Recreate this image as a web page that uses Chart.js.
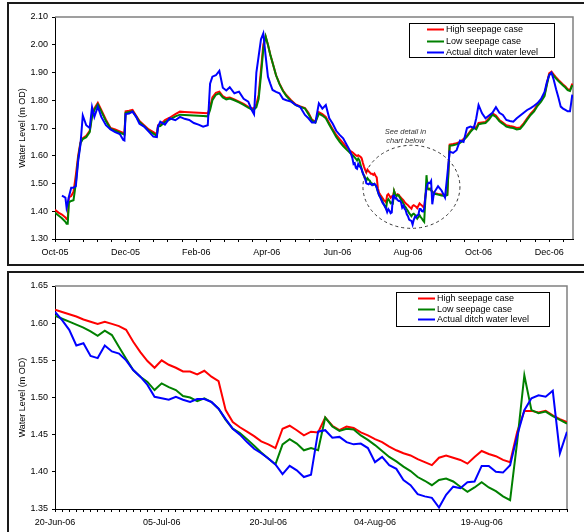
<!DOCTYPE html>
<html>
<head>
<meta charset="utf-8">
<title>Ditch water level - seepage cases</title>
<script src="https://cdn.jsdelivr.net/npm/chart.js@4.4.1/dist/chart.umd.min.js"></script>
<style>
    html, body { margin: 0; padding: 0; background: #fff; overflow: hidden; }
    body { width: 584px; height: 532px; position: relative; }
    .frame { position: absolute; border: 2px solid #1a1a1a; box-sizing: border-box; }
    #frameTop { left: 7px; top: 2px; width: 600px; height: 264px; }
    #frameBottom { left: 7px; top: 271px; width: 600px; height: 300px; }
    canvas { position: absolute; left: 0; }
    #overviewChart { top: 0; }
    #detailChart { top: 268px; }
</style>
</head>
<body>
<div class="frame" id="frameTop"></div>
<div class="frame" id="frameBottom"></div>
<canvas id="overviewChart" width="584" height="266"></canvas>
<canvas id="detailChart" width="584" height="264"></canvas>

<script>
/* ===== Data ===== */
var seriesLabels = ['High seepage case', 'Low seepage case', 'Actual ditch water level'];

// overview axis: days counted from the first axis tick (labelled Oct-05)
var overviewMonthLabels = ['Oct-05', 'Dec-05', 'Feb-06', 'Apr-06', 'Jun-06', 'Aug-06', 'Oct-06', 'Dec-06'];
var overviewLevelTicks = [1.3, 1.4, 1.5, 1.6, 1.7, 1.8, 1.9, 2.0, 2.1];
var detailStartDay = 255; // 20-Jun-06 on the overview axis

var earlyDays = [0, 3, 6, 9, 10, 11, 12, 14, 16, 18, 20, 22, 24, 27, 30, 32, 34, 37, 40, 44,
    48, 52, 56, 59, 60, 61, 64, 67, 70, 73, 77, 81, 85, 88, 89, 91, 95, 99, 104, 108,
    112, 116, 120, 124, 128, 132, 134, 136, 139, 142, 145, 148, 151, 155, 159, 163, 167, 170, 172, 174,
    176, 178, 180, 182, 184, 186, 188, 191, 194, 197, 200, 204, 208, 212, 216, 219, 222, 225, 228, 231,
    234, 237, 240, 243, 246, 249, 252, 254];
var earlyHigh = [1.405, 1.395, 1.388, 1.378, 1.372, 1.371, 1.450, 1.455, 1.470, 1.530,
    1.600, 1.648, 1.663, 1.672, 1.690, 1.750, 1.770, 1.791, 1.765, 1.730,
    1.700, 1.695, 1.688, 1.682, 1.680, 1.760, 1.762, 1.765, 1.745, 1.725,
    1.710, 1.695, 1.685, 1.677, 1.710, 1.712, 1.729, 1.737, 1.750, 1.759,
    1.758, 1.757, 1.756, 1.755, 1.754, 1.753, 1.775, 1.810, 1.827, 1.831,
    1.815, 1.808, 1.810, 1.803, 1.795, 1.787, 1.776, 1.771, 1.772, 1.785,
    1.820, 1.910, 2.000, 2.030, 2.000, 1.965, 1.935, 1.890, 1.860, 1.835,
    1.818, 1.800, 1.785, 1.778, 1.772, 1.755, 1.730, 1.723, 1.757, 1.750,
    1.740, 1.717, 1.695, 1.675, 1.660, 1.645, 1.630, 1.622];
var earlyLow = [1.395, 1.385, 1.375, 1.362, 1.355, 1.355, 1.432, 1.437, 1.440, 1.500,
    1.590, 1.645, 1.660, 1.667, 1.685, 1.740, 1.765, 1.785, 1.760, 1.725,
    1.697, 1.690, 1.683, 1.678, 1.676, 1.755, 1.758, 1.760, 1.742, 1.722,
    1.706, 1.690, 1.680, 1.672, 1.705, 1.707, 1.722, 1.730, 1.742, 1.748,
    1.747, 1.746, 1.745, 1.744, 1.743, 1.742, 1.765, 1.800, 1.820, 1.825,
    1.810, 1.803, 1.806, 1.800, 1.792, 1.783, 1.773, 1.767, 1.767, 1.775,
    1.805, 1.890, 1.985, 2.030, 2.000, 1.965, 1.935, 1.890, 1.858, 1.833,
    1.815, 1.797, 1.782, 1.776, 1.770, 1.750, 1.727, 1.720, 1.752, 1.745,
    1.735, 1.712, 1.690, 1.668, 1.650, 1.635, 1.622, 1.614];
var earlyActual = [null, null, 1.456, 1.449, 1.413, 1.430, 1.452, 1.485, 1.485, 1.490,
    1.580, 1.640, 1.745, 1.710, 1.700, 1.775, 1.740, 1.777, 1.740, 1.710,
    1.695, 1.685, 1.678, 1.657, 1.655, 1.750, 1.752, 1.759, 1.741, 1.715,
    1.705, 1.687, 1.669, 1.667, 1.705, 1.723, 1.712, 1.735, 1.728, 1.740,
    1.733, 1.729, 1.718, 1.712, 1.705, 1.710, 1.860, 1.885, 1.890, 1.906,
    1.845, 1.835, 1.847, 1.825, 1.831, 1.805, 1.795, 1.765, 1.750, 1.900,
    1.960, 2.020, 2.041, 1.960, 1.885, 1.860, 1.837, 1.830, 1.825, 1.805,
    1.800, 1.795, 1.783, 1.775, 1.747, 1.735, 1.720, 1.720, 1.789, 1.770,
    1.783, 1.735, 1.715, 1.690, 1.675, 1.663, 1.640, 1.625];

var lateDays = [328, 331, 334, 337, 339, 341, 344, 347, 350, 353, 356, 359, 362, 364, 366, 369, 372, 375, 378, 381,
    384, 387, 390, 393, 396, 399, 402, 405, 408, 411, 414, 417, 420, 423, 425, 427, 429, 431, 433, 435,
    437, 439, 441, 443, 445, 447];
var lateHigh = [1.465, 1.462, 1.460, 1.457, 1.460, 1.640, 1.642, 1.645, 1.650, 1.660,
    1.673, 1.690, 1.705, 1.700, 1.718, 1.720, 1.722, 1.735, 1.753, 1.745,
    1.729, 1.720, 1.710, 1.707, 1.705, 1.700, 1.702, 1.717, 1.735, 1.752,
    1.765, 1.785, 1.800, 1.820, 1.860, 1.897, 1.903, 1.892, 1.882, 1.873,
    1.865, 1.857, 1.850, 1.840, 1.837, 1.860];
var lateLow = [1.463, 1.460, 1.457, 1.455, 1.458, 1.636, 1.638, 1.641, 1.646, 1.656,
    1.669, 1.686, 1.700, 1.695, 1.713, 1.716, 1.718, 1.730, 1.748, 1.740,
    1.724, 1.715, 1.705, 1.702, 1.700, 1.695, 1.697, 1.712, 1.730, 1.747,
    1.760, 1.780, 1.795, 1.815, 1.855, 1.892, 1.898, 1.888, 1.878, 1.869,
    1.861, 1.853, 1.846, 1.836, 1.833, 1.855];
var lateActual = [1.470, 1.490, 1.475, 1.450, 1.530, 1.615, 1.610, 1.620, 1.655, 1.650,
    1.700, 1.705, 1.700, 1.735, 1.783, 1.753, 1.735, 1.745, 1.755, 1.775,
    1.755, 1.747, 1.729, 1.725, 1.723, 1.735, 1.745, 1.755, 1.765, 1.772,
    1.780, 1.790, 1.805, 1.830, 1.865, 1.890, 1.899, 1.873, 1.840, 1.810,
    1.777, 1.770, 1.765, 1.760, 1.760, 1.820];

// detail: daily values 20-Jun-06 .. 31-Aug-06
var detailDateLabels = ['20-Jun-06', '05-Jul-06', '20-Jul-06', '04-Aug-06', '19-Aug-06'];
var detailLevelTicks = [1.35, 1.40, 1.45, 1.50, 1.55, 1.60, 1.65];
var detailHigh = [1.618, 1.615, 1.612, 1.609, 1.605, 1.602, 1.599, 1.602, 1.599, 1.596,
    1.591, 1.575, 1.561, 1.549, 1.540, 1.550, 1.544, 1.540, 1.535, 1.535,
    1.531, 1.536, 1.528, 1.522, 1.483, 1.467, 1.460, 1.454, 1.448, 1.441,
    1.437, 1.432, 1.458, 1.462, 1.456, 1.449, 1.454, 1.453, 1.473, 1.462,
    1.456, 1.461, 1.459, 1.453, 1.449, 1.444, 1.440, 1.434, 1.429, 1.425,
    1.422, 1.417, 1.413, 1.409, 1.419, 1.422, 1.419, 1.416, 1.411, 1.420,
    1.428, 1.424, 1.421, 1.416, 1.413, 1.454, 1.482, 1.482, 1.480, 1.482,
    1.476, 1.471, 1.467];
var detailLow = [1.610, 1.606, 1.602, 1.598, 1.594, 1.589, 1.583, 1.590, 1.584, 1.568,
    1.552, 1.537, 1.528, 1.521, 1.510, 1.519, 1.514, 1.510, 1.502, 1.500,
    1.495, 1.499, 1.494, 1.485, 1.470, 1.458, 1.452, 1.444, 1.435, 1.426,
    1.418, 1.410, 1.437, 1.444, 1.438, 1.429, 1.432, 1.429, 1.473, 1.461,
    1.455, 1.458, 1.457, 1.449, 1.443, 1.436, 1.428, 1.420, 1.414, 1.407,
    1.401, 1.393, 1.388, 1.382, 1.389, 1.391, 1.387, 1.380, 1.373, 1.379,
    1.386, 1.379, 1.374, 1.367, 1.362, 1.441, 1.530, 1.483, 1.479, 1.481,
    1.475, 1.470, 1.465];
var detailActual = [1.615, 1.604, 1.591, 1.570, 1.573, 1.556, 1.553, 1.570, 1.562, 1.559,
    1.550, 1.537, 1.528, 1.517, 1.501, 1.499, 1.497, 1.501, 1.497, 1.494,
    1.498, 1.498, 1.494, 1.485, 1.471, 1.458, 1.450, 1.440, 1.431, 1.425,
    1.418, 1.410, 1.397, 1.408, 1.402, 1.393, 1.396, 1.454, 1.456, 1.446,
    1.447, 1.440, 1.437, 1.438, 1.432, 1.413, 1.420, 1.409, 1.404, 1.389,
    1.382, 1.370, 1.367, 1.365, 1.352, 1.369, 1.380, 1.378, 1.386, 1.387,
    1.408, 1.408, 1.400, 1.399, 1.409, 1.449, 1.483, 1.499, 1.503, 1.501,
    1.509, 1.425, 1.454];

(function () {
    'use strict';

    /* ===== Design Tokens ===== */
    var COLORS = { high: '#FF0000', low: '#008000', actual: '#0000FF', axis: '#000', frame: '#808080', note: '#333' };
    var FAMILY = "'Liberation Sans', Arial, sans-serif";
    var FONT = { family: FAMILY, size: 9 };

    Chart.defaults.color = '#000';
    Chart.defaults.font.family = FAMILY;

    function points(days, values, offset) {
        var out = [];
        for (var i = 0; i < values.length; i++) {
            if (values[i] === null) continue;
            out.push({ x: (days ? days[i] : i) + (offset || 0), y: values[i] });
        }
        return out;
    }

    function lineSet(label, color, order, data) {
        return { label: label, data: data, borderColor: color, backgroundColor: color, borderWidth: 2,
            pointRadius: 0, tension: 0, fill: false, order: order };
    }

    /* ===== Plugins ===== */
    // grey plot-area frame on top and right (axes draw left/bottom)
    var plotFrame = {
        id: 'plotFrame',
        beforeDatasetsDraw: function (chart) {
            var a = chart.chartArea, ctx = chart.ctx;
            ctx.save();
            ctx.strokeStyle = COLORS.frame;
            ctx.lineWidth = 1.5;
            ctx.beginPath();
            ctx.moveTo(a.left, a.top);
            ctx.lineTo(a.right, a.top);
            ctx.lineTo(a.right, a.bottom);
            ctx.stroke();
            ctx.restore();
        }
    };

    // boxed legend inside the plot area, top right
    var boxLegend = {
        id: 'boxLegend',
        afterDatasetsDraw: function (chart, args, opts) {
            var a = chart.chartArea, ctx = chart.ctx;
            var left = Math.round(a.right - opts.right - opts.width), top = Math.round(a.top + opts.top);
            ctx.save();
            ctx.fillStyle = '#fff';
            ctx.fillRect(left, top, opts.width, opts.height);
            ctx.strokeStyle = '#000';
            ctx.lineWidth = 1;
            ctx.strokeRect(left + 0.5, top + 0.5, opts.width, opts.height);
            ctx.font = '9px ' + FAMILY;
            ctx.textBaseline = 'middle';
            chart.data.datasets.forEach(function (ds, i) {
                var y = Math.round(top + opts.rows[i]) + 0.5;
                ctx.strokeStyle = ds.borderColor;
                ctx.lineWidth = 2;
                ctx.beginPath();
                ctx.moveTo(left + opts.lineFrom, y);
                ctx.lineTo(left + opts.lineTo, y);
                ctx.stroke();
                ctx.fillStyle = '#000';
                ctx.fillText(ds.label, left + opts.textX, y);
            });
            ctx.restore();
        }
    };

    // dashed ring + note marking the detail period
    var detailNote = {
        id: 'detailNote',
        afterDatasetsDraw: function (chart, args, opts) {
            var xs = chart.scales.x, ys = chart.scales.y, ctx = chart.ctx;
            var cx = xs.getPixelForValue(opts.day), cy = ys.getPixelForValue(opts.level);
            var rx = xs.getPixelForValue(opts.day + opts.dayRadius) - cx;
            var ry = cy - ys.getPixelForValue(opts.level + opts.levelRadius);
            ctx.save();
            ctx.strokeStyle = COLORS.note;
            ctx.lineWidth = 1;
            ctx.setLineDash([3, 3]);
            ctx.beginPath();
            ctx.ellipse(cx, cy, rx, ry, 0, 0, Math.PI * 2);
            ctx.stroke();
            ctx.setLineDash([]);
            ctx.fillStyle = COLORS.note;
            ctx.font = 'italic 7.5px ' + FAMILY;
            ctx.textAlign = 'center';
            ctx.textBaseline = 'middle';
            ctx.fillText(opts.lines[0], cx - 6, cy - ry - 13.5);
            ctx.fillText(opts.lines[1], cx - 6, cy - ry - 4.5);
            ctx.restore();
        }
    };

    function levelAxis(ticks, min, max) {
        return {
            min: min, max: max,
            afterBuildTicks: function (s) { s.ticks = ticks.map(function (v) { return { value: v }; }); },
            afterFit: function (s) { s.width = 45; },
            ticks: { font: FONT, padding: 4, callback: function (v) { return Number(v).toFixed(2); } },
            grid: { drawOnChartArea: false, tickLength: 3, color: COLORS.axis },
            border: { color: COLORS.axis, width: 1 },
            title: { display: true, text: 'Water Level (m OD)', font: FONT, padding: { top: 7, bottom: 0 } }
        };
    }

    function timeAxis(max, step, count, every, labels) {
        return {
            type: 'linear', min: 0, max: max,
            afterBuildTicks: function (s) {
                var t = [];
                for (var k = 0; k < count; k++) t.push({ value: k * step });
                s.ticks = t;
            },
            afterFit: function (s) { s.height = 22; },
            ticks: {
                font: FONT, padding: 5, autoSkip: false, maxRotation: 0, minRotation: 0,
                callback: function (v, i) { return i % every === 0 ? (labels[i / every] || '') : ''; }
            },
            grid: { drawOnChartArea: false, tickLength: 3, color: COLORS.axis },
            border: { color: COLORS.axis, width: 1 }
        };
    }

    var baseOptions = {
        responsive: false,
        animation: false,
        devicePixelRatio: 1,
        events: []
    };

    /* ===== Overview Chart (Oct-05 .. Dec-06) ===== */
    function initOverviewChart(canvasId) {
        var ctx = document.getElementById(canvasId);
        if (!ctx) return null;
        var high = points(earlyDays, earlyHigh).concat(points(null, detailHigh, detailStartDay), points(lateDays, lateHigh));
        var low = points(earlyDays, earlyLow).concat(points(null, detailLow, detailStartDay), points(lateDays, lateLow));
        var actual = points(earlyDays, earlyActual).concat(points(null, detailActual, detailStartDay), points(lateDays, lateActual));

        return new Chart(ctx, {
            type: 'line',
            data: {
                datasets: [
                    lineSet(seriesLabels[0], COLORS.high, 3, high),
                    lineSet(seriesLabels[1], COLORS.low, 2, low),
                    lineSet(seriesLabels[2], COLORS.actual, 1, actual)
                ]
            },
            options: Object.assign({}, baseOptions, {
                layout: { padding: { left: 10, right: 11, top: 17, bottom: 5 } },
                scales: {
                    x: timeAxis(447.6, 12.2, 37, 5, overviewMonthLabels),
                    y: levelAxis(overviewLevelTicks, 1.3, 2.1)
                },
                plugins: {
                    legend: { display: false },
                    tooltip: { enabled: false },
                    boxLegend: { right: 19, top: 6, width: 145, height: 34, lineFrom: 18, lineTo: 35, textX: 37, rows: [6, 17.5, 29] },
                    detailNote: { day: 308, level: 1.488, dayRadius: 41.9, levelRadius: 0.1496, lines: ['See detail in', 'chart below'] }
                }
            }),
            plugins: [plotFrame, detailNote, boxLegend]
        });
    }

    /* ===== Detail Chart (20-Jun-06 .. 31-Aug-06) ===== */
    function initDetailChart(canvasId) {
        var ctx = document.getElementById(canvasId);
        if (!ctx) return null;

        return new Chart(ctx, {
            type: 'line',
            data: {
                datasets: [
                    lineSet(seriesLabels[0], COLORS.high, 3, points(null, detailHigh)),
                    lineSet(seriesLabels[1], COLORS.low, 2, points(null, detailLow)),
                    lineSet(seriesLabels[2], COLORS.actual, 1, points(null, detailActual))
                ]
            },
            options: Object.assign({}, baseOptions, {
                layout: { padding: { left: 10, right: 17, top: 18, bottom: 1 } },
                scales: {
                    x: timeAxis(detailHigh.length - 1, 1, detailHigh.length, 15, detailDateLabels),
                    y: levelAxis(detailLevelTicks, 1.35, 1.65)
                },
                plugins: {
                    legend: { display: false },
                    tooltip: { enabled: false },
                    boxLegend: { right: 18, top: 6, width: 153, height: 34, lineFrom: 22, lineTo: 39, textX: 41, rows: [6, 16.5, 27] }
                }
            }),
            plugins: [plotFrame, boxLegend]
        });
    }

    initOverviewChart('overviewChart');
    initDetailChart('detailChart');
})();
</script>
</body>
</html>
